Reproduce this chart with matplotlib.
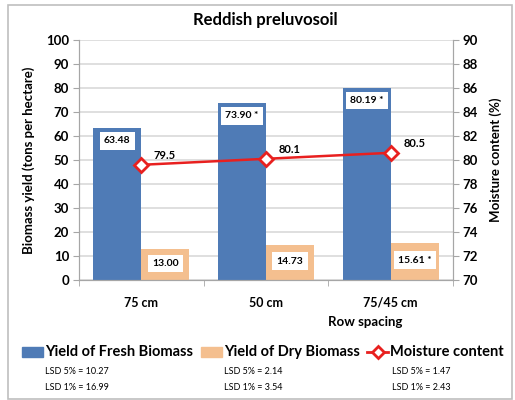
import numpy as np
import matplotlib.pyplot as plt
from matplotlib.patches import Rectangle

plt.rcParams["font.family"] = ["Lato", "DejaVu Sans"]

categories = ["75 cm", "50 cm", "75/45 cm"]
fresh = [63.48, 73.90, 80.19]
dry = [13.00, 14.73, 15.61]
moisture = [79.6, 80.1, 80.6]
fresh_labels = ["63.48", "73.90 *", "80.19 *"]
dry_labels = ["13.00", "14.73", "15.61 *"]
moisture_labels = ["79.5", "80.1", "80.5"]
lsd_5 = ["LSD 5% = 10.27", "LSD 5% = 2.14", "LSD 5% = 1.47"]
lsd_1 = ["LSD 1% = 16.99", "LSD 1% = 3.54", "LSD 1% = 2.43"]

blue = "#4F7BB6"
orange = "#F4BF8F"
red = "#E8201F"
grid_c = "#D9D9D9"
spine_c = "#A6A6A6"

fig = plt.figure(figsize=(5.15, 4.0), dpi=100)
fig.patches.append(Rectangle((8 / 515, 1 / 400), 504 / 515, 394 / 400, transform=fig.transFigure,
                             fill=False, edgecolor="#BFBFBF", linewidth=1.2))

ax = fig.add_axes([79 / 515, 120 / 400, 374 / 515, 240 / 400])
ax2 = ax.twinx()

x = np.arange(len(categories))
w = 0.385
ax.bar(x - w / 2, fresh, w, color=blue, zorder=2)
ax.bar(x + w / 2, dry, w, color=orange, zorder=2)

ax.set_xlim(-0.5, 2.5)
ax.set_ylim(0, 100)
ax.set_yticks(range(0, 101, 10))
ax.yaxis.grid(True, color=grid_c, linewidth=1.2, zorder=0)
ax.set_axisbelow(True)
ax.set_xticks(x)
ax.set_xticklabels(categories, fontweight="bold", fontsize=9)
ax.set_xticks([-0.5, 0.5, 1.5, 2.5], minor=True)
ax.tick_params(axis="x", which="major", length=0, pad=12)
ax.tick_params(axis="x", which="minor", length=4, color=spine_c, direction="out")
ax.tick_params(axis="y", length=4, color=spine_c, direction="out", labelsize=9.5, pad=3)
for t in ax.get_yticklabels():
    t.set_fontweight("bold")

for s in ["top"]:
    ax.spines[s].set_visible(False)
    ax2.spines[s].set_visible(False)
for s in ["left", "right", "bottom"]:
    ax.spines[s].set_color(spine_c)
    ax2.spines[s].set_color(spine_c)
ax.set_ylabel("Biomass yield (tons per hectare)", fontweight="bold", fontsize=9.5, labelpad=8)
ax.set_xlabel("Row spacing", fontweight="bold", fontsize=9.5, labelpad=6)
ax.xaxis.set_label_coords(0.765, -0.15)

box = dict(boxstyle="square,pad=0.4", facecolor="white", edgecolor="none")
for i in range(len(categories)):
    ax.text(x[i] - w / 2, fresh[i] - 5.5, fresh_labels[i], ha="center", va="center",
            fontsize=7.5, fontweight="bold", bbox=box, zorder=4)
    ax.text(x[i] + w / 2, dry[i] / 2 + 0.5, dry_labels[i], ha="center", va="center",
            fontsize=7.5, fontweight="bold", bbox=box, zorder=4)

ax2.plot(x, moisture, color=red, linewidth=1.8, marker="D", markersize=7,
         markerfacecolor="white", markeredgecolor=red, markeredgewidth=2, zorder=5)
for i in range(len(categories)):
    ax2.text(x[i] + 0.1, moisture[i] + 0.35, moisture_labels[i], ha="left", va="bottom",
             fontsize=8, fontweight="bold")
ax2.set_ylim(70, 90)
ax2.set_yticks(range(70, 91, 2))
ax2.tick_params(axis="y", length=4, color=spine_c, direction="out", labelsize=9.5, pad=3)
for t in ax2.get_yticklabels():
    t.set_fontweight("bold")
ax2.set_ylabel("Moisture content (%)", fontweight="bold", fontsize=9.5, labelpad=8)

fig.text(265 / 515, 1 - 20 / 400, "Reddish preluvosoil", ha="center", va="center",
         fontsize=12, fontweight="bold")

# legend
leg_y = 1 - 352 / 400
fig.patches.append(Rectangle((22 / 515, leg_y - 5 / 400), 21 / 515, 10 / 400,
                             transform=fig.transFigure, color=blue))
fig.text(45 / 515, leg_y, "Yield of Fresh Biomass", ha="left", va="center", fontsize=10.5, fontweight="bold")
fig.patches.append(Rectangle((201 / 515, leg_y - 5 / 400), 21 / 515, 10 / 400,
                             transform=fig.transFigure, color=orange))
fig.text(224 / 515, leg_y, "Yield of Dry Biomass", ha="left", va="center", fontsize=10.5, fontweight="bold")
fig.lines.append(plt.Line2D([367 / 515, 388 / 515], [leg_y, leg_y], transform=fig.transFigure,
                            color=red, linewidth=2))
fig.lines.append(plt.Line2D([377.5 / 515], [leg_y], transform=fig.transFigure, marker="D",
                            markersize=6, markerfacecolor="white", markeredgecolor=red,
                            markeredgewidth=2, color=red))
fig.text(390 / 515, leg_y, "Moisture content", ha="left", va="center", fontsize=10.5, fontweight="bold")

for xp, a, b in zip([45, 224, 392], lsd_5, lsd_1):
    fig.text(xp / 515, 1 - 372 / 400, a, ha="left", va="center", fontsize=6.5)
    fig.text(xp / 515, 1 - 388 / 400, b, ha="left", va="center", fontsize=6.5)

fig.savefig("out.png", dpi=100, facecolor="white")
